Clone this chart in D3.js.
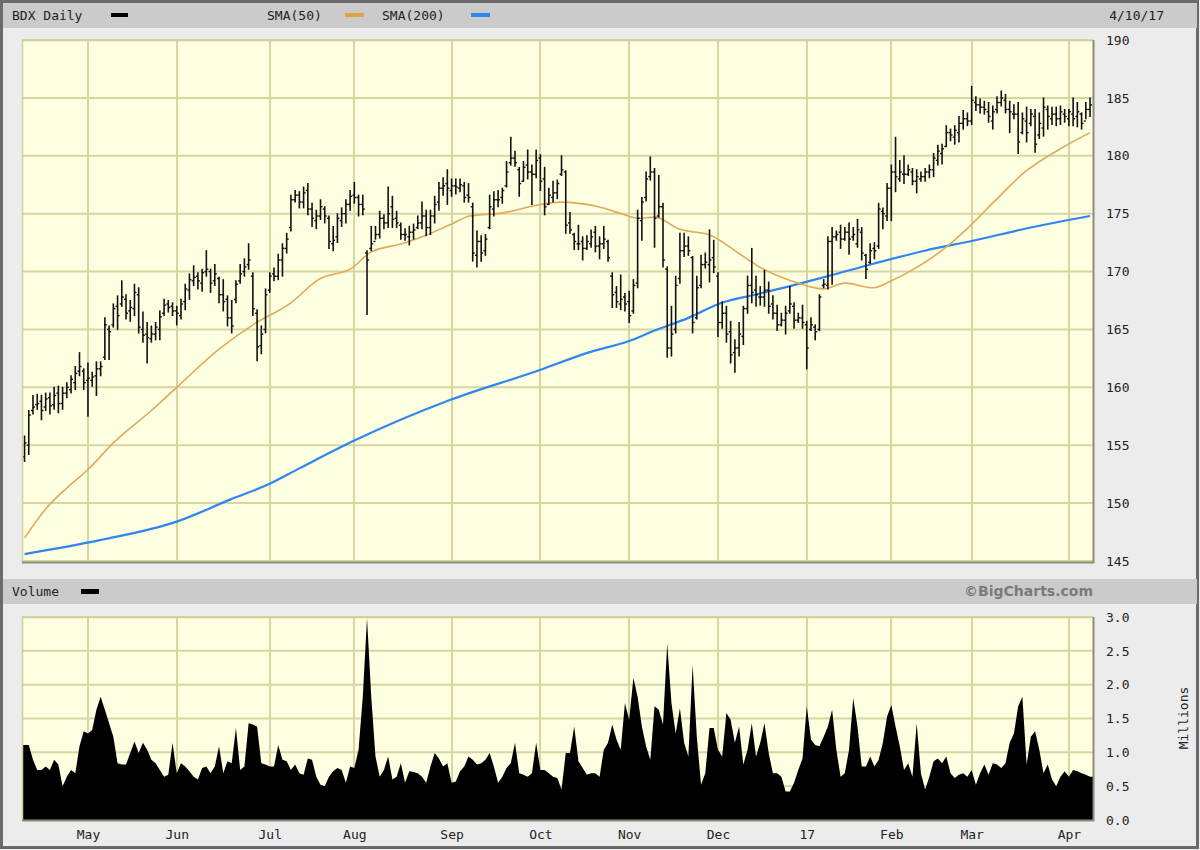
<!DOCTYPE html>
<html><head><meta charset="utf-8">
<script src="https://cdn.jsdelivr.net/npm/d3@7"></script>
<style>
html,body{margin:0;padding:0;background:#ececec;}
svg{display:block;}
text{font-family:"DejaVu Sans Mono",monospace;}
</style></head><body>
<svg id="c" width="1200" height="850"></svg>
<script>
const high=[155.8,158.0,159.3,159.4,159.3,159.5,159.5,160.0,160.1,160.0,160.4,161.0,161.8,163.0,161.6,162.1,161.3,162.2,162.2,166.0,165.3,167.2,167.9,169.2,168.0,167.5,168.9,168.6,166.5,165.6,165.3,165.6,166.6,167.6,167.5,167.3,167.0,167.6,168.9,169.8,170.5,169.9,170.2,171.8,170.2,170.6,169.5,169.3,167.9,167.5,169.2,170.6,171.1,172.4,169.9,166.7,165.3,168.5,169.9,170.3,171.5,172.4,173.3,176.6,177.0,176.9,177.3,177.6,175.9,175.3,176.2,175.6,174.8,173.9,175.0,175.5,176.2,177.0,177.7,176.6,176.6,171.8,173.9,173.9,175.2,174.9,177.3,176.5,175.2,174.2,173.7,173.9,174.1,174.8,176.0,175.3,175.3,176.5,177.7,178.1,178.8,178.0,178.0,178.0,177.7,177.6,175.9,173.5,173.1,173.2,176.6,176.9,177.0,177.2,179.5,181.6,180.4,179.0,179.5,180.5,179.2,180.5,180.1,179.0,177.2,177.8,177.9,180.0,178.7,175.1,173.3,174.0,173.0,173.1,173.6,173.9,173.0,173.9,172.7,169.9,168.7,169.7,168.1,168.3,169.3,175.3,176.4,178.6,179.9,178.9,178.3,175.9,170.4,167.0,169.6,173.3,173.3,173.0,171.3,169.6,171.4,171.6,173.6,172.7,169.9,167.4,167.0,165.7,164.1,165.6,167.0,169.6,172.0,169.6,168.7,170.1,169.1,167.9,167.1,166.4,167.0,168.7,167.3,166.4,167.1,165.7,166.0,165.4,168.0,169.3,173.0,173.8,173.5,174.0,173.8,174.2,173.8,174.5,173.8,171.5,172.4,172.5,175.9,175.5,177.6,179.2,181.6,179.6,180.0,179.2,178.9,178.8,178.6,178.9,179.2,180.2,180.9,181.0,182.6,182.3,182.6,183.4,183.9,183.7,186.0,185.1,184.9,184.7,184.6,184.3,185.1,185.6,185.3,184.7,184.4,184.6,183.7,184.2,184.0,184.0,183.7,185.0,184.3,184.2,184.2,184.3,184.0,184.0,185.0,184.6,183.7,184.6,185.0];
const low=[153.6,154.2,157.7,158.1,157.2,158.0,157.7,158.1,157.8,158.1,159.1,159.5,159.8,161.0,159.8,157.5,160.1,159.3,161.0,162.4,162.4,165.2,165.0,167.0,165.9,165.7,166.2,164.7,163.9,162.1,163.9,164.1,164.1,166.2,166.5,166.2,165.4,165.9,166.7,167.6,168.8,168.5,168.3,169.6,168.2,168.8,167.3,166.6,165.3,164.7,167.3,169.0,169.6,170.2,166.2,162.3,162.9,164.7,168.2,169.2,169.3,169.6,171.6,173.5,176.0,175.5,175.5,174.9,173.9,173.7,174.5,174.2,172.0,171.8,172.5,173.9,174.2,175.3,175.9,174.8,174.9,166.3,171.8,172.8,172.9,173.7,173.8,173.8,173.8,172.8,172.7,172.3,172.8,173.7,173.7,173.1,173.2,174.2,175.3,176.6,175.8,176.5,176.7,176.9,176.0,176.0,170.9,170.4,170.9,171.4,173.7,174.8,175.6,175.9,177.3,179.2,179.1,176.5,177.8,178.0,175.8,178.1,177.0,174.9,175.8,176.0,176.3,178.3,173.3,173.3,171.9,171.9,171.0,171.9,172.1,171.7,171.1,172.0,170.9,166.9,166.9,166.7,166.6,165.6,166.4,168.6,172.7,176.1,177.9,172.1,174.7,170.4,162.6,162.7,164.7,169.0,171.3,171.4,164.7,165.9,168.6,170.3,169.1,169.9,164.4,165.1,163.9,162.1,161.3,162.7,163.7,166.4,167.3,167.0,167.1,167.0,166.4,165.9,164.9,165.3,164.6,166.4,165.1,165.6,165.1,161.6,164.9,164.1,164.9,168.6,168.5,168.9,172.7,172.0,172.7,171.5,172.7,172.1,171.0,169.4,170.7,171.1,172.0,173.7,174.4,174.4,176.9,177.8,177.6,178.3,177.5,176.8,177.8,177.8,178.1,178.2,179.2,179.3,180.8,181.3,181.0,181.2,182.3,182.6,182.7,183.9,183.7,183.6,182.9,182.3,183.7,184.3,183.7,182.0,183.2,180.2,181.9,181.2,182.6,180.3,181.5,181.7,182.3,182.7,182.6,182.7,182.9,182.6,182.6,182.5,182.3,183.2,183.4];
const open=[154.0,155.0,158.0,158.5,158.8,158.3,159.1,158.5,159.5,158.6,159.5,159.8,160.4,161.4,161.4,160.6,160.6,161.0,161.6,162.6,165.0,165.4,167.0,167.2,167.6,166.6,166.8,168.0,165.0,164.6,164.2,164.6,165.0,166.4,167.2,167.0,166.6,166.2,167.4,168.4,169.2,169.6,169.0,170.0,170.0,169.2,169.4,168.0,167.6,166.0,167.6,169.2,170.0,170.6,169.6,166.4,163.6,165.0,168.4,169.8,169.6,171.0,172.0,173.8,176.2,176.6,176.0,177.0,175.4,174.4,174.8,175.4,174.6,172.4,173.0,174.4,175.0,175.8,176.6,176.4,175.8,171.6,172.0,172.6,173.2,174.6,174.2,175.6,174.6,174.0,173.2,173.0,173.4,173.8,174.2,174.8,173.8,174.8,176.0,177.2,177.6,177.0,177.4,177.2,177.4,176.6,175.6,171.4,172.6,171.8,173.8,175.4,176.2,176.4,177.4,179.4,179.8,178.8,177.8,179.2,178.6,178.4,179.8,178.0,175.8,176.4,176.8,178.4,178.6,174.2,173.2,172.4,172.6,172.0,172.4,173.4,172.2,172.4,172.6,169.6,168.2,167.2,167.8,167.4,166.6,169.0,174.4,176.4,178.2,178.6,174.8,175.6,170.2,163.4,165.0,169.4,171.8,172.2,171.2,166.0,168.8,170.6,170.6,171.2,169.6,165.6,166.4,164.8,163.0,163.4,164.4,166.8,168.8,168.4,167.8,167.8,168.4,167.2,166.4,165.4,165.8,166.6,167.0,165.8,166.0,165.4,165.0,165.2,165.0,168.8,168.8,172.6,173.0,173.4,172.8,173.4,173.0,172.4,173.4,171.4,170.8,172.0,172.2,175.2,174.8,177.2,178.6,178.0,178.4,178.4,178.6,177.8,178.0,178.2,178.6,178.8,179.6,180.2,180.8,182.0,181.6,182.0,182.8,183.2,183.0,184.6,184.4,184.2,183.8,183.0,184.0,184.6,184.8,184.0,183.6,183.6,182.0,183.0,182.8,183.4,181.8,182.4,184.0,183.2,183.6,183.2,183.6,183.2,183.6,183.4,183.6,183.0,184.0];
const close=[155.2,157.6,158.3,158.6,158.0,159.0,158.4,159.3,158.6,159.5,160.0,160.7,161.2,161.8,160.4,160.8,160.9,161.6,161.8,165.4,164.8,166.8,166.2,167.8,166.4,166.9,168.2,165.2,164.5,164.3,164.6,165.2,166.1,167.1,166.9,166.6,166.4,167.2,168.5,169.3,169.5,169.2,169.9,170.2,169.0,169.8,168.0,167.4,166.0,165.3,168.9,169.8,170.4,171.0,166.8,163.5,164.6,168.0,169.6,169.6,171.0,172.0,172.8,176.2,176.6,176.0,176.8,175.4,174.6,174.8,175.6,174.8,172.6,172.7,174.6,175.0,175.8,176.5,176.4,175.8,175.4,171.0,172.4,173.2,174.6,174.2,175.0,174.5,174.2,173.2,173.2,173.4,173.6,174.2,174.8,173.8,174.8,175.8,177.2,177.4,177.2,177.4,177.3,177.5,176.4,176.4,171.6,172.6,171.6,172.8,175.6,176.2,176.2,177.0,178.6,179.8,179.4,177.6,179.0,178.6,178.4,179.6,177.8,175.6,176.6,176.8,177.6,178.8,174.0,173.6,172.6,172.4,172.0,172.6,173.0,172.2,172.4,172.8,171.2,168.0,167.4,167.6,167.2,166.2,168.8,174.6,176.0,178.0,178.6,174.6,175.6,171.0,163.4,164.6,168.8,171.8,172.2,171.8,165.6,168.6,170.6,170.8,171.0,170.4,165.6,166.4,164.6,162.8,163.4,164.6,166.8,168.8,168.2,168.0,167.8,168.4,167.0,166.4,165.4,165.8,166.4,167.2,165.8,166.0,165.6,163.4,165.4,164.8,167.8,168.9,172.6,173.0,173.2,172.8,173.4,172.8,173.2,173.6,171.6,170.2,171.8,171.8,175.4,175.0,177.2,178.6,178.2,178.6,178.4,178.8,177.8,178.2,178.2,178.6,178.8,179.8,180.4,180.6,182.0,181.8,182.2,182.8,183.2,183.0,184.8,184.4,184.2,184.0,183.4,183.8,184.6,185.0,184.0,183.8,183.6,181.2,183.2,182.0,183.6,181.0,182.8,184.2,183.4,183.6,183.2,183.8,183.4,183.8,183.2,183.8,182.8,184.0,184.4];
const volume=[1.11,1.11,0.89,0.74,0.74,0.79,0.74,0.89,0.82,0.5,0.64,0.74,0.69,1.09,1.31,1.28,1.33,1.63,1.82,1.63,1.43,1.23,0.84,0.82,0.82,0.99,1.16,0.99,1.14,1.04,0.89,0.84,0.74,0.64,0.67,1.14,0.69,0.84,0.79,0.72,0.64,0.6,0.77,0.79,0.69,0.79,1.09,0.69,0.87,0.84,1.36,0.74,0.79,1.43,1.41,1.38,0.84,0.82,0.79,0.79,1.11,0.89,0.87,0.74,0.82,0.69,0.67,0.91,0.89,0.64,0.52,0.5,0.64,0.72,0.77,0.74,0.55,0.79,0.77,1.04,1.82,2.98,1.82,0.94,0.64,0.74,0.94,0.6,0.64,0.84,0.55,0.72,0.71,0.69,0.64,0.55,0.79,0.99,0.91,0.79,0.84,0.55,0.57,0.72,0.79,0.94,0.89,0.82,0.84,0.89,0.99,0.79,0.55,0.64,0.77,0.84,1.14,0.69,0.67,0.64,0.69,1.14,0.74,0.74,0.69,0.64,0.62,0.45,0.99,0.99,1.38,0.87,0.77,0.67,0.69,0.69,0.64,1.04,1.14,1.41,1.19,1.04,1.73,1.48,2.1,1.82,1.38,1.09,0.89,1.68,1.63,1.41,2.61,1.73,1.28,1.65,1.14,0.94,2.29,1.23,0.52,0.69,1.36,1.36,1.04,0.94,1.58,1.48,1.14,1.38,0.82,1.04,1.43,0.94,1.14,1.43,0.99,0.69,0.69,0.64,0.42,0.42,0.55,0.74,0.91,1.68,1.19,1.11,1.09,1.23,1.38,1.63,1.04,0.64,0.69,1.04,1.8,1.38,0.79,0.79,0.94,0.79,0.89,1.14,1.53,1.7,1.38,1.09,0.74,0.84,0.64,1.43,0.69,0.45,0.64,0.87,0.91,0.84,0.94,0.69,0.62,0.67,0.69,0.64,0.74,0.52,0.69,0.82,0.67,0.84,0.82,0.77,0.84,1.14,1.28,1.68,1.82,0.82,1.23,1.31,1.04,0.69,0.82,0.6,0.5,0.64,0.72,0.64,0.74,0.72,0.69,0.67,0.64];
const sma50Idx=[0,5,10,15,21,30,36,46,54,63,69.5,77.4,82,89.2,94.7,101,105.3,112.8,121.5,126.6,135.7,141.2,145.1,149.1,154.6,162.5,168.8,174.3,180.6,189,194,200.7,205,209.8,216.9,223.2,229.5,236.6,244.5,252];
const sma50Val=[147.0,149.5,151.3,152.9,155.2,158.0,160.0,163.3,165.4,167.3,169.3,170.3,171.7,172.4,173.1,174.1,174.8,175.05,175.75,176.0,175.6,175.0,174.6,174.7,173.7,173.1,171.6,170.3,169.3,168.5,169.0,168.6,169.2,170.1,171.8,173.8,176.1,178.6,180.5,182.0];
const sma200Idx=[0,17.8,36,48.6,57.6,65,78,100.6,121.9,133.3,143,149,157,164.9,172.7,180.6,190,201,212.9,224.8,236.6,252];
const sma200Val=[145.6,146.8,148.4,150.3,151.6,153.0,155.4,158.9,161.5,163.0,164.0,164.9,166.0,167.3,168.0,168.7,169.6,170.7,171.8,172.7,173.7,174.8];
const monthIdx=[15,36,58,78,101,122,143,164,185,205,224,247];
const monthLabels=["May","Jun","Jul","Aug","Sep","Oct","Nov","Dec","17","Feb","Mar","Apr"];
const priceTicks=[145,150,155,160,165,170,175,180,185,190];
const volTicks=[0,0.5,1.0,1.5,2.0,2.5,3.0];

const svg=d3.select("#c");
const L=22,R=1093,PT=40,PB=562,VT=617,VB=820;
const x=d3.scaleLinear().domain([-0.6,252.7]).range([L,R]);
const y=d3.scaleLinear().domain([145,190]).range([561,40]);
const yv=d3.scaleLinear().domain([0,3]).range([VB,VT]);
const gridC="#d6d6a2", bgC="#fefee0";

svg.append("rect").attr("x",0).attr("y",0).attr("width",1200).attr("height",850).attr("fill","#ececec");
svg.append("rect").attr("x",1.5).attr("y",1.5).attr("width",1196).attr("height",846).attr("fill","none").attr("stroke","#6a6a6a").attr("stroke-width",3);
svg.append("rect").attr("x",3).attr("y",3).attr("width",1194).attr("height",25).attr("fill","#cbcbcb");
svg.append("rect").attr("x",3).attr("y",579).attr("width",1194).attr("height",25).attr("fill","#cbcbcb");

function hdrText(t,xx,yy,anchor,opts={}){
  return svg.append("text").attr("x",xx).attr("y",yy).attr("text-anchor",anchor||"start")
    .attr("font-size",opts.size||13).attr("fill",opts.fill||"#222").attr("font-weight",opts.weight||"normal")
    .style("font-family",opts.family||"'DejaVu Sans Mono',monospace").text(t);
}
hdrText("BDX Daily",12,20);
svg.append("rect").attr("x",111).attr("y",13).attr("width",17).attr("height",4).attr("fill","#000");
hdrText("SMA(50)",267,20);
svg.append("rect").attr("x",345).attr("y",13).attr("width",19).attr("height",4).attr("fill","#e0a23c");
hdrText("SMA(200)",382,20);
svg.append("rect").attr("x",471).attr("y",13).attr("width",19).attr("height",4).attr("fill","#2f86ee");
hdrText("4/10/17",1164,20,"end");
hdrText("Volume",12,596);
svg.append("rect").attr("x",81).attr("y",589).attr("width",18).attr("height",5).attr("fill","#000");
hdrText("©BigCharts.com",1093,596,"end",{fill:"#7a7a7a",weight:"bold",family:"'DejaVu Sans',sans-serif",size:14});

function panel(top,bot){
  svg.append("rect").attr("x",L).attr("y",top).attr("width",R-L).attr("height",bot-top).attr("fill",bgC);
}
panel(PT,PB); panel(VT,VB);

const gP=svg.append("g");
gP.selectAll("line.h").data(priceTicks).join("line").attr("x1",L).attr("x2",R)
  .attr("y1",d=>y(d)).attr("y2",d=>y(d)).attr("stroke",gridC).attr("stroke-width",2);
gP.selectAll("line.v").data(monthIdx).join("line").attr("y1",PT).attr("y2",PB)
  .attr("x1",d=>Math.round(x(d))).attr("x2",d=>Math.round(x(d))).attr("stroke",gridC).attr("stroke-width",2);
const gV=svg.append("g");
gV.selectAll("line.h").data(volTicks).join("line").attr("x1",L).attr("x2",R)
  .attr("y1",d=>yv(d)).attr("y2",d=>yv(d)).attr("stroke",gridC).attr("stroke-width",2);
gV.selectAll("line.v").data(monthIdx).join("line").attr("y1",VT).attr("y2",VB)
  .attr("x1",d=>Math.round(x(d))).attr("x2",d=>Math.round(x(d))).attr("stroke",gridC).attr("stroke-width",2);

const ln=d3.line().curve(d3.curveMonotoneX);
svg.append("path").attr("d",ln(sma200Idx.map((d,i)=>[x(d),y(sma200Val[i])]))).attr("fill","none").attr("stroke","#2f86ee").attr("stroke-width",2.2);
svg.append("path").attr("d",ln(sma50Idx.map((d,i)=>[x(d),y(sma50Val[i])]))).attr("fill","none").attr("stroke","#deaa5c").attr("stroke-width",1.6);

const bars=svg.append("g").attr("stroke","#111").attr("stroke-width",1.6);
high.forEach((h,i)=>{
  const cx=x(i);
  bars.append("line").attr("x1",cx).attr("x2",cx).attr("y1",y(h)-0.5).attr("y2",y(low[i])+0.5);
  bars.append("line").attr("x1",cx-2).attr("x2",cx).attr("y1",y(open[i])).attr("y2",y(open[i])).attr("stroke-width",1.4);
  bars.append("line").attr("x1",cx).attr("x2",cx+2).attr("y1",y(close[i])).attr("y2",y(close[i])).attr("stroke-width",1.4);
});

// volume as filled profile
const bw=x(1)-x(0);
const area=d3.area().x(d=>d[0]).y0(VB).y1(d=>d[1]).curve(d3.curveLinear);
const pts=[[x(0)-bw/2,yv(volume[0])]].concat(volume.map((v,i)=>[x(i),yv(v)]),[[R,yv(volume[volume.length-1])]]);
svg.append("path").attr("d",area(pts)).attr("fill","#000");

function border(top,bot){
  svg.append("line").attr("x1",L).attr("x2",R).attr("y1",top+0.5).attr("y2",top+0.5).attr("stroke","#cfcf9c").attr("stroke-width",1.5);
  svg.append("line").attr("x1",L+0.5).attr("x2",L+0.5).attr("y1",top).attr("y2",bot).attr("stroke","#cfcf9c").attr("stroke-width",1.5);
  svg.append("line").attr("x1",L).attr("x2",R+1).attr("y1",bot+0.5).attr("y2",bot+0.5).attr("stroke","#8d8d7a").attr("stroke-width",2);
  svg.append("line").attr("x1",R+0.5).attr("x2",R+0.5).attr("y1",top).attr("y2",bot+1).attr("stroke","#8d8d7a").attr("stroke-width",2);
}
border(PT,PB); border(VT,VB);

const ax1=svg.append("g").attr("transform",`translate(${R+10},0)`)
  .call(d3.axisRight(y).tickValues(priceTicks).tickSize(0).tickFormat(d3.format("d")));
const ax2=svg.append("g").attr("transform",`translate(${R+10},0)`)
  .call(d3.axisRight(yv).tickValues(volTicks).tickSize(0).tickFormat(d3.format(".1f")));
const ax3=svg.append("g").attr("transform",`translate(0,${VB+4})`)
  .call(d3.axisBottom(x).tickValues(monthIdx).tickSize(0).tickFormat((d,i)=>monthLabels[i]));
[ax1,ax2,ax3].forEach(a=>{a.select(".domain").remove();
  a.selectAll("text").attr("fill","#222").attr("font-size",13).style("font-family","'DejaVu Sans Mono',monospace");});
ax3.selectAll("text").attr("dy","0.9em");
svg.append("text").attr("transform","translate(1188,718) rotate(-90)").attr("text-anchor","middle")
  .attr("font-size",13).attr("fill","#222").style("font-family","'DejaVu Sans Mono',monospace").text("Millions");
</script></body></html>
